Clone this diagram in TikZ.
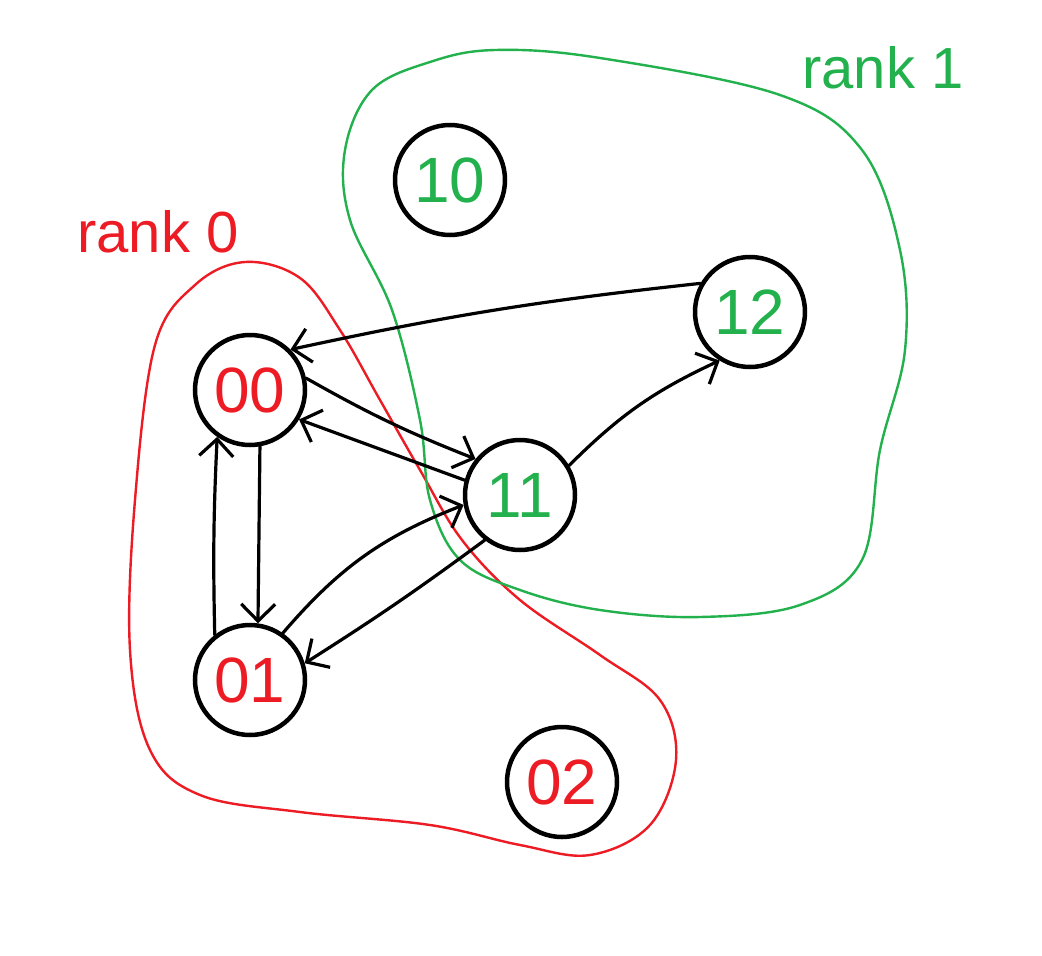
\documentclass[tikz,border=0pt]{standalone}
\usepackage{fontspec}
\setmainfont{Liberation Sans}
\usetikzlibrary{arrows.meta}
\definecolor{pred}{RGB}{237,28,36}
\definecolor{pgreen}{RGB}{34,177,76}
\tikzset{
  proc/.style={circle, draw=black, line width=4.5pt, minimum size=110pt, inner sep=0pt, font=\fontsize{64}{70}\selectfont},
  r0/.style={proc, text=pred},
  r1/.style={proc, text=pgreen},
  msg/.style={draw=black, line width=3.2pt, line cap=round, -{Straight Barb[length=17pt,width=34pt,line width=3.2pt]}},
  region/.style={line width=2.4pt},
  ranklabel/.style={font=\fontsize{58}{62}\selectfont, anchor=center}
}
\begin{document}
\begin{tikzpicture}[x=1pt,y=-1pt]
\useasboundingbox (0,0) rectangle (1042,956);
\fill[white] (0,0) rectangle (1042,956);
% red region (rank 0)
\draw[region, pred] plot[smooth cycle, tension=0.6] coordinates {
 (245,262) (300,278) (340,330) (380,400) (420,470) (462,540) (520,600)
 (600,655) (660,700) (676,760) (650,825) (590,855) (520,845) (430,825)
 (300,812) (200,795) (150,750) (130,650) (135,500) (155,345) (195,285)};
% green region (rank 1)
\draw[region, pgreen] plot[smooth cycle, tension=0.6] coordinates {
 (495,50) (600,58) (780,95) (862,150) (900,250) (905,350) (880,450)
 (862,560) (800,605) (700,617) (600,610) (520,590) (460,560) (430,500)
 (420,420) (392,310) (350,220) (345,150) (372,90) (430,62)};
% labels
\node[ranklabel, text=pred] (lab0) at (158,232) {rank 0};
\node[ranklabel, text=pgreen] (lab1) at (883,68) {rank 1};
% nodes
\node[r1] (n10) at (450,180) {10};
\node[r1] (n12) at (750,312) {12};
\node[r0] (n00) at (250,390) {00};
\node[r1] (n11) at (520,495) {11};
\node[r0] (n01) at (250,680) {01};
\node[r0] (n02) at (562,782) {02};
% messages
\draw[msg] (n12.150) to[bend right=3] (n00.45);
\draw[msg] (n11.31) to[bend left=10] (n12.238);
\draw[msg] (n00.12) to[bend right=4] (n11.141);
\draw[msg] (n11.165) to (n00.329);
\draw[msg] (n00.280) to (n01.82);
\draw[msg] (n01.128) to[bend left=2] (n00.235);
\draw[msg] (n01.55) to[bend left=14] (n11.190);
\draw[msg] (n11.232) to[bend left=2] (n01.17);
\end{tikzpicture}
\end{document}
